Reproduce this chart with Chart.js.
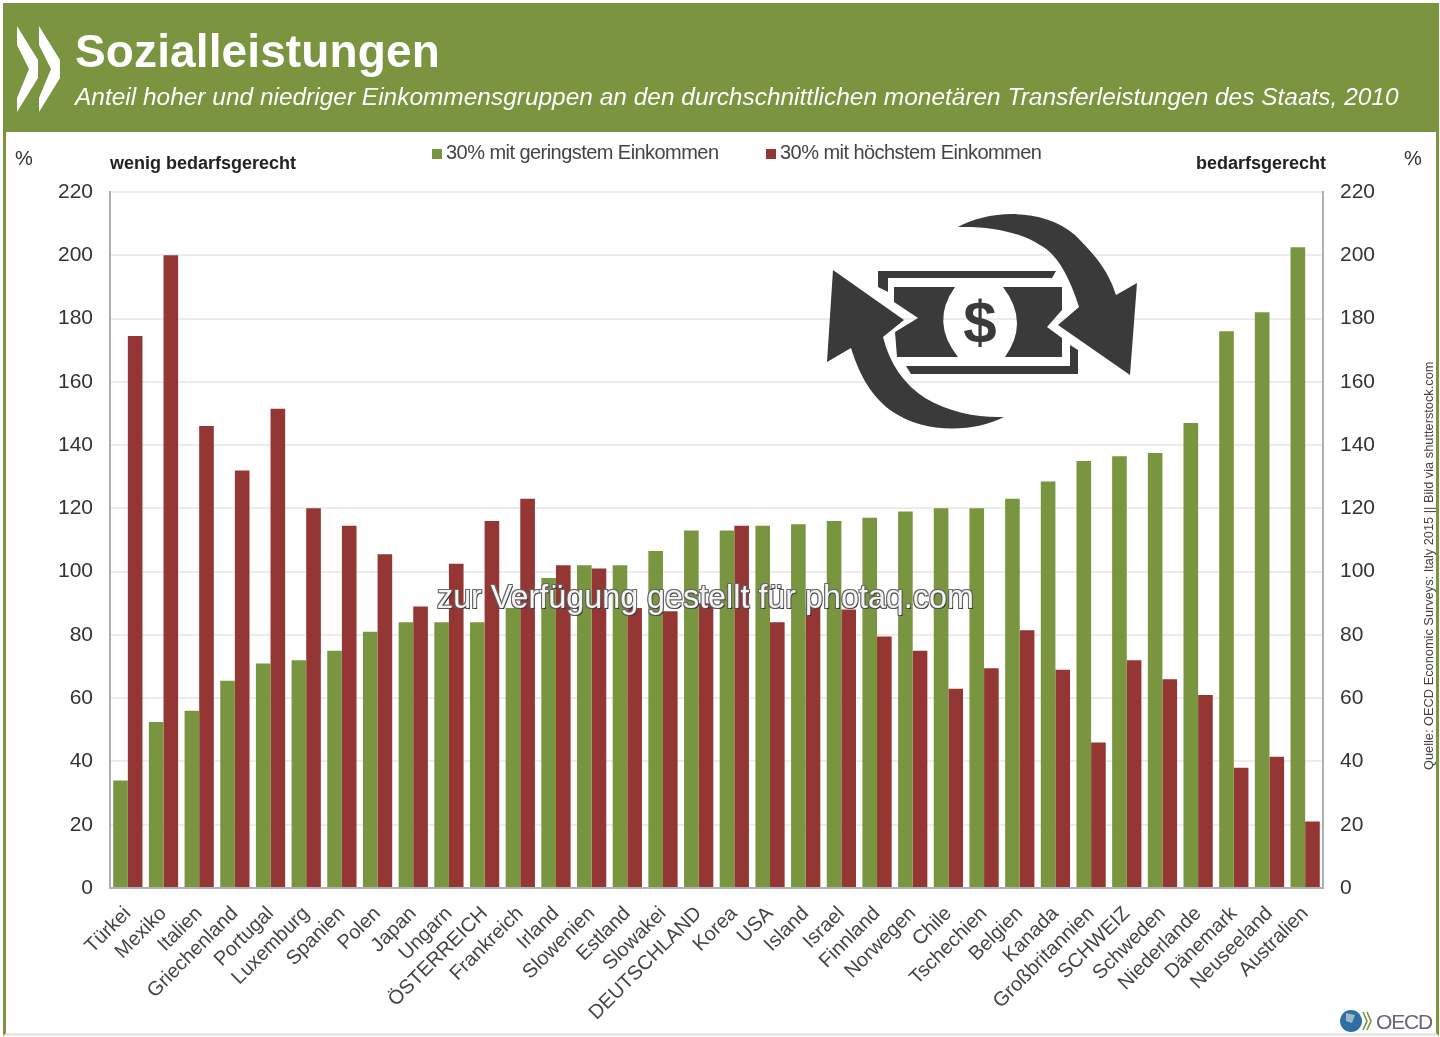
<!DOCTYPE html>
<html lang="de">
<head>
<meta charset="utf-8" />
<title>Sozialleistungen</title>
<script src="https://cdn.jsdelivr.net/npm/chart.js"></script>
<style>
  html, body { margin: 0; padding: 0; background: #fff; }
  body { width: 1440px; height: 1037px; position: relative; overflow: hidden; font-family: "Liberation Sans", Arial, sans-serif; color: #333; }
  canvas { position: absolute; left: 0; top: 0; }
  .abs { position: absolute; white-space: nowrap; }
  #frame { left: 3px; top: 3px; width: 1430px; height: 1028px; border: solid #7a9440; border-width: 2px 3px 0 3px; border-bottom: 3px solid #e8e8e8; white-space: normal; }
  #header { left: 3px; top: 3px; width: 1433px; height: 129px; background: #7a9440; }
  #title { left: 75px; top: 24px; font-size: 46px; font-weight: bold; color: #fff; line-height: 54px; letter-spacing: 0.12px; }
  #subtitle { left: 75px; top: 82px; font-size: 24.46px; font-style: italic; color: #fff; line-height: 30px; }
  .note { font-size: 18px; font-weight: bold; line-height: 22px; color: #222; }
  .pct { font-size: 20px; line-height: 24px; color: #333; }
  .legend { top: 140px; font-size: 20px; line-height: 24px; letter-spacing: -0.55px; color: #444; }
  .legend i { display: inline-block; width: 10px; height: 10px; margin-right: 4px; }
  #source { left: 1429px; top: 770px; font-size: 12.8px; line-height: 12px; color: #444; transform-origin: 0 0; transform: rotate(-90deg) translateY(-6px); }
  #stamp { left: 437px; top: 578px; font-size: 32.3px; line-height: 38px; color: #f4f4f4; text-shadow: -1px -1px 0 #666, 1px -1px 0 #666, -1px 1px 0 #555, 1px 1px 0 #333; }
  #oecd { left: 1376px; top: 1008px; font-size: 21px; line-height: 28px; letter-spacing: -1.2px; color: #667; }
</style>
</head>
<body>
<canvas id="myChart" width="1440" height="1037"></canvas>
<div class="abs" id="frame"></div>
<div class="abs" id="header"></div>
<svg class="abs" style="left:0;top:0" width="1440" height="1037">
  <g fill="#fff">
    <path d="M17 26 L38 60 L38 78 L17 112 L17 98 L29 69 L17 45 Z" />
    <path d="M39 26 L60 60 L60 78 L39 112 L39 98 L51 69 L39 45 Z" />
  </g>
  <g fill="#3a3a3a">
    <path d="M958 227 C985 212 1040 205 1075 235 C1095 255 1108 270 1116 295 L1137 283 L1130 375 L1058 325 L1079 307 C1072 285 1060 255 1040 245 C1020 232 990 226 958 227 Z" />
    <path d="M1004 417 C975 432 925 435 890 410 C868 393 858 370 851 348 L827 362 L833 270 L904 320 L883 337 C890 365 905 385 925 398 C950 413 980 418 1004 417 Z" />
    <path d="M878 271 L1056 271 L1052 278 L888 278 L888 292 L878 287 Z" />
    <path d="M1070 345 L1078 350 L1078 374 L911 374 L906 366 L1070 366 Z" />
    <path d="M894 287 L955 287 Q930 322 958 357 L897 357 L895 332 L918 318 L894 302 Z" />
    <path d="M1003 287 L1062 287 L1062 310 L1047 327 L1062 338 L1062 357 L1005 357 Q1030 322 1003 287 Z" />
    <text x="980" y="343" font-size="60" font-weight="bold" text-anchor="middle" font-family="Liberation Sans">$</text>
  </g>
  <circle cx="1351" cy="1021" r="11" fill="#2f6ea5" />
  <path d="M1346 1013 L1355 1015 L1352 1023 L1346 1021 Z" fill="#9db8cc" />
  <g fill="none" stroke="#7a9440" stroke-width="1.6">
    <path d="M1363 1012 L1367 1021 L1363 1030" />
    <path d="M1367 1012 L1371 1021 L1367 1030" />
  </g>
</svg>
<div class="abs" id="title">Sozialleistungen</div>
<div class="abs" id="subtitle">Anteil hoher und niedriger Einkommensgruppen an den durchschnittlichen monetären Transferleistungen des Staats, 2010</div>
<div class="abs pct" style="left:15px;top:146px">%</div>
<div class="abs pct" style="left:1404px;top:146px">%</div>
<div class="abs note" style="left:110px;top:152px">wenig bedarfsgerecht</div>
<div class="abs note" style="left:1196px;top:152px">bedarfsgerecht</div>
<div class="abs legend" id="legendLow" style="left:432px"></div>
<div class="abs legend" id="legendHigh" style="left:766px"></div>
<div class="abs" id="source">Quelle: OECD Economic Surveys: Italy 2015 || Bild via shutterstock.com</div>
<div class="abs" id="oecd">OECD</div>
<div class="abs" id="stamp">zur Verfügung gestellt für photaq.com</div>
<script>
  const categories = ["Türkei", "Mexiko", "Italien", "Griechenland", "Portugal", "Luxemburg", "Spanien", "Polen", "Japan", "Ungarn", "ÖSTERREICH", "Frankreich", "Irland", "Slowenien", "Estland", "Slowakei", "DEUTSCHLAND", "Korea", "USA", "Island", "Israel", "Finnland", "Norwegen", "Chile", "Tschechien", "Belgien", "Kanada", "Großbritannien", "SCHWEIZ", "Schweden", "Niederlande", "Dänemark", "Neuseeland", "Australien"];
  const lowIncome = [34, 52.5, 56, 65.5, 71, 72, 75, 81, 84, 84, 84, 88.5, 98, 102, 102, 106.5, 113, 113, 114.5, 115, 116, 117, 119, 120, 120, 123, 128.5, 135, 136.5, 137.5, 147, 176, 182, 202.5];
  const highIncome = [174.5, 200, 146, 132, 151.5, 120, 114.5, 105.5, 89, 102.5, 116, 123, 102, 101, 88.5, 87.5, 90, 114.5, 84, 89, 88, 79.5, 75, 63, 69.5, 81.5, 69, 46, 72, 66, 61, 38, 41.5, 21];
  const lowName = "30% mit geringstem Einkommen";
  const highName = "30% mit höchstem Einkommen";
  const lowColor = "#7a953f";
  const highColor = "#943634";
  const tickFont = { family: "Liberation Sans", size: 21 };

  document.getElementById("legendLow").innerHTML = `<i style="background:${lowColor}"></i>${lowName}`;
  document.getElementById("legendHigh").innerHTML = `<i style="background:${highColor}"></i>${highName}`;

  new Chart(document.getElementById("myChart"), {
    type: "bar",
    data: {
      labels: categories,
      datasets: [
        { label: lowName, data: lowIncome, backgroundColor: lowColor },
        { label: highName, data: highIncome, backgroundColor: highColor },
      ],
    },
    options: {
      responsive: false,
      animation: false,
      layout: { padding: { top: 192, left: 0, right: 0, bottom: 0 } },
      datasets: { bar: { categoryPercentage: 0.82, barPercentage: 1 } },
      plugins: { legend: { display: false }, title: { display: false }, tooltip: { enabled: false } },
      scales: {
        x: {
          grid: { display: false, drawTicks: false },
          border: { color: "#b0b0b0", width: 2 },
          ticks: {
            autoSkip: false, minRotation: 45, maxRotation: 45, padding: 14, color: "#444",
            font: { family: "Liberation Sans", size: 20 },
          },
          afterFit(scale) { scale.height = 149; },
        },
        y: {
          min: 0, max: 220,
          grid: { color: "#ececec", lineWidth: 2, drawTicks: false },
          border: { color: "#b0b0b0", width: 2 },
          ticks: { stepSize: 20, padding: 17, color: "#333", font: tickFont },
          afterFit(scale) { scale.width = 110; },
        },
        yRight: {
          position: "right", min: 0, max: 220,
          grid: { display: false, drawTicks: false },
          border: { color: "#b0b0b0", width: 2 },
          ticks: { stepSize: 20, padding: 17, color: "#333", font: tickFont },
          afterFit(scale) { scale.width = 117; },
        },
      },
    },
  });
</script>
</body>
</html>
